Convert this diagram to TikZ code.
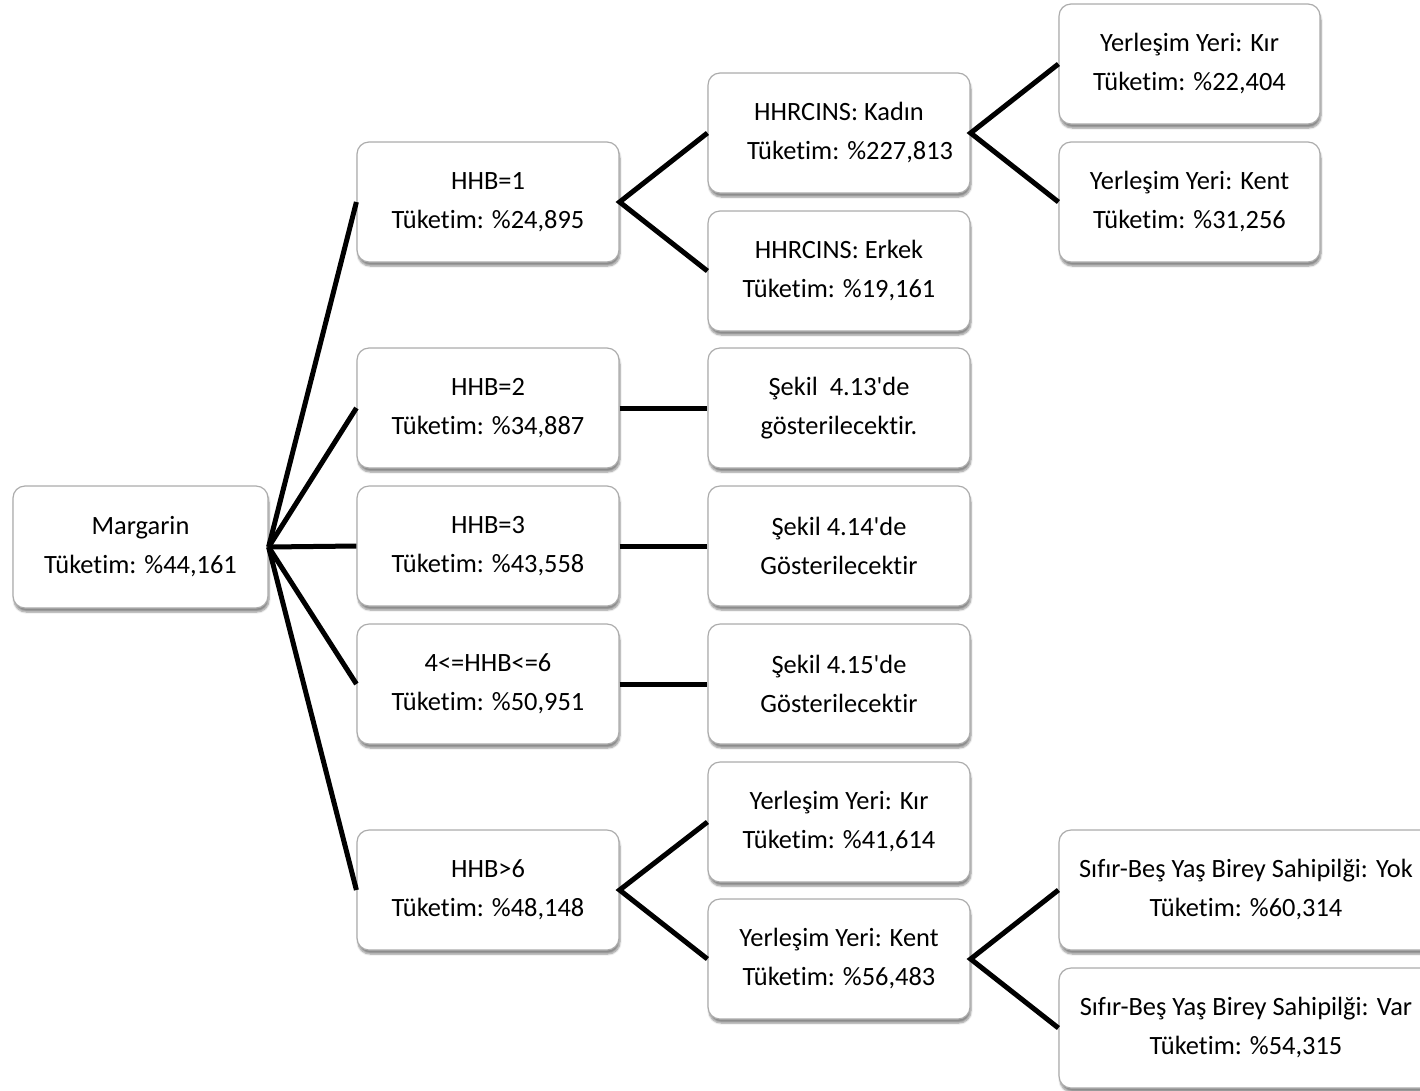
\documentclass[tikz,border=0pt]{standalone}
\usepackage{fontspec}
\setmainfont{Carlito}[Ligatures={NoCommon}]
\usetikzlibrary{shadows.blur}
\begin{document}
\begin{tikzpicture}[x=1pt,y=-1pt,
  box/.style={draw=gray!65, line width=1.2pt, fill=white, rounded corners=12pt,
    minimum width=262pt, minimum height=120pt, align=center, inner sep=0pt,
    font=\fontsize{26.4}{39}\selectfont,
    blur shadow={shadow xshift=1pt, shadow yshift=-4pt, shadow blur steps=6, shadow blur extra rounding=2pt, shadow opacity=45}},
  link/.style={line width=5pt}]
\useasboundingbox (0,0) rectangle (1420,1090);

% root
\node[box, minimum width=255pt, minimum height=122pt] (root) at (140.5,547) {Margarin\\Tüketim: \%44,161};

% household size groups
\node[box] (h1) at (488,202) {HHB=1\\Tüketim: \%24,895};
\node[box] (h2) at (488,408) {HHB=2\\Tüketim: \%34,887};
\node[box] (h3) at (488,546) {HHB=3\\Tüketim: \%43,558};
\node[box] (h4) at (488,684) {4<=HHB<=6\\Tüketim: \%50,951};
\node[box] (h7) at (488,890) {HHB>6\\Tüketim: \%48,148};

% second level
\node[box] (kadin) at (839,133) {HHRCINS: Kadın\\\hspace*{22pt}Tüketim: \%227,813};
\node[box] (erkek) at (839,271) {HHRCINS: Erkek\\Tüketim: \%19,161};
\node[box] (s13) at (839,408) {Şekil\ \ 4.13\textquotesingle de\\gösterilecektir.};
\node[box] (s14) at (839,546) {Şekil 4.14\textquotesingle de\\Gösterilecektir};
\node[box] (s15) at (839,684) {Şekil 4.15\textquotesingle de\\Gösterilecektir};
\node[box] (kir7) at (839,822) {Yerleşim Yeri: Kır\\Tüketim: \%41,614};
\node[box] (kent7) at (839,959) {Yerleşim Yeri: Kent\\Tüketim: \%56,483};

% third level
\node[box, minimum width=261pt] (kir1) at (1189.5,64) {Yerleşim Yeri: Kır\\Tüketim: \%22,404};
\node[box, minimum width=261pt] (kent1) at (1189.5,202) {Yerleşim Yeri: Kent\\Tüketim: \%31,256};
\node[box, minimum width=374pt] (yok) at (1246,890) {Sıfır-Beş Yaş Birey Sahipilği: Yok\\Tüketim: \%60,314};
\node[box, minimum width=374pt] (var) at (1246,1028) {Sıfır-Beş Yaş Birey Sahipilği: Var\\Tüketim: \%54,315};

% connectors
\foreach \t in {h1,h2,h3,h4,h7} \draw[link] (root.east) -- (\t.west);
\draw[link] (kadin.west) -- (h1.east) -- (erkek.west);
\draw[link] (kir1.west) -- (kadin.east) -- (kent1.west);
\draw[link] (h2.east) -- (s13.west);
\draw[link] (h3.east) -- (s14.west);
\draw[link] (h4.east) -- (s15.west);
\draw[link] (kir7.west) -- (h7.east) -- (kent7.west);
\draw[link] (yok.west) -- (kent7.east) -- (var.west);
\end{tikzpicture}
\end{document}
